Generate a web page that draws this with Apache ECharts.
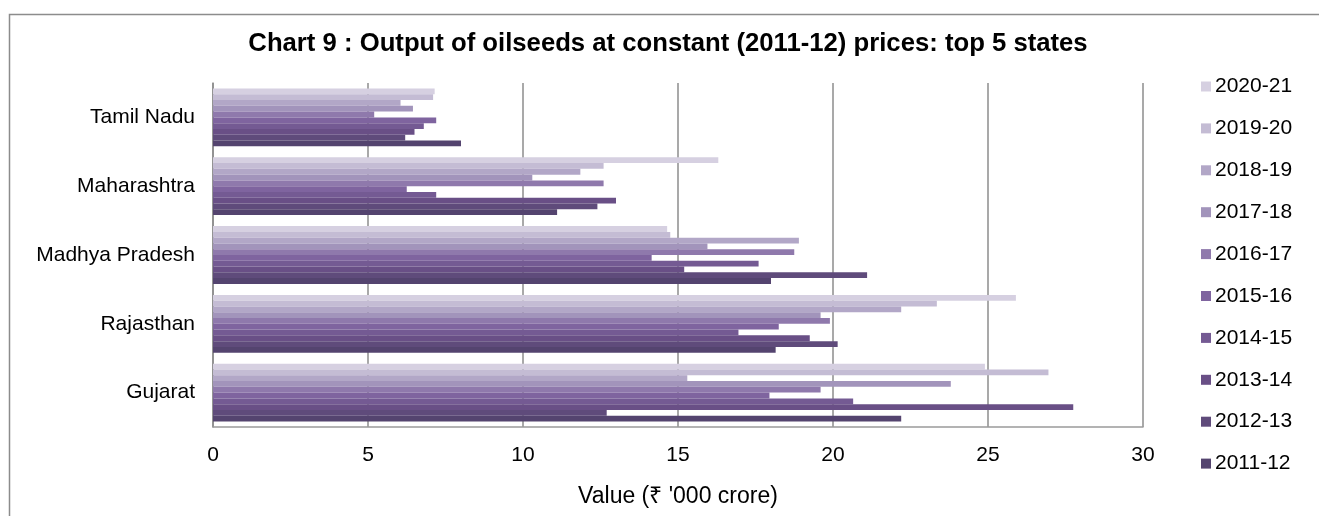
<!DOCTYPE html>
<html>
<head>
<meta charset="utf-8">
<script src="https://cdn.jsdelivr.net/npm/echarts@6/dist/echarts.min.js"></script>
<style>
  html, body { margin: 0; padding: 0; background: #fff; }
  #chart { width: 1319px; height: 516px; }
</style>
</head>
<body>
<div id="chart"></div>
<script>
// states, bottom to top as drawn
const states = ['Gujarat', 'Rajasthan', 'Madhya Pradesh', 'Maharashtra', 'Tamil Nadu'];
const years = ['2011-12', '2012-13', '2013-14', '2014-15', '2015-16',
               '2016-17', '2017-18', '2018-19', '2019-20', '2020-21'];
const xTicks = [0, 5, 10, 15, 20, 25, 30];

// values in Rs '000 crore, one array per year, in states order
const v2011 = [22.2, 18.15, 18.0, 11.1, 8.0];
const v2012 = [12.7, 20.15, 21.1, 12.4, 6.2];
const v2013 = [27.75, 19.25, 15.2, 13.0, 6.5];
const v2014 = [20.65, 16.95, 17.6, 7.2, 6.8];
const v2015 = [17.95, 18.25, 14.15, 6.25, 7.2];
const v2016 = [19.6, 19.9, 18.75, 12.6, 5.2];
const v2017 = [23.8, 19.6, 15.95, 10.3, 6.45];
const v2018 = [15.3, 22.2, 18.9, 11.85, 6.05];
const v2019 = [26.95, 23.35, 14.75, 12.6, 7.1];
const v2020 = [24.9, 25.9, 14.65, 16.3, 7.15];

const seriesValues = [v2011, v2012, v2013, v2014, v2015, v2016, v2017, v2018, v2019, v2020];
const colors = ['#54446f', '#5f4b7b', '#694f86', '#745a93', '#7f649f',
                '#8f79ac', '#a294bb', '#b2a7c7', '#c4bcd4', '#d6d0e1'];

const chart = echarts.init(document.getElementById('chart'));

// echarts puts the first series at the top of each band, so go newest first
const series = [];
for (let i = years.length - 1; i >= 0; i--) {
  series.push({
    name: years[i],
    type: 'bar',
    data: seriesValues[i],
    barGap: '0%',
    barCategoryGap: '16%',
    itemStyle: { color: colors[i] }
  });
}

chart.setOption({
  animation: false,
  textStyle: { fontFamily: 'Liberation Sans, Arial, sans-serif' },
  title: {
    text: 'Chart 9 : Output of oilseeds at constant (2011-12) prices: top 5 states',
    left: 663,
    top: 26,
    textAlign: 'center',
    textStyle: { fontSize: 25.7, fontWeight: 'bold', color: '#000' }
  },
  graphic: [{
    type: 'rect',
    shape: { x: 9.5, y: 14.5, width: 1330, height: 520 },
    style: { fill: 'none', stroke: '#8c8c8c', lineWidth: 1.5 },
    silent: true,
    z: -1
  }],
  legend: {
    orient: 'vertical',
    left: 1196,
    top: 71,
    itemWidth: 10,
    itemHeight: 10,
    itemGap: 20.9,
    icon: 'rect',
    data: years.slice().reverse(),
    textStyle: { fontSize: 21, color: '#000', padding: [0, 0, 0, -1] }
  },
  grid: { left: 213, right: 176, top: 83, bottom: 89 },
  xAxis: {
    type: 'value',
    min: xTicks[0],
    max: xTicks[xTicks.length - 1],
    interval: 5,
    name: "Value (\u20B9 '000 crore)",
    nameLocation: 'middle',
    nameGap: 58,
    nameTextStyle: { fontSize: 23, color: '#000' },
    axisLine: { show: true, lineStyle: { color: '#9a9a9a', width: 1.5 } },
    axisTick: { show: false },
    axisLabel: { fontSize: 21, color: '#000', margin: 18 },
    splitLine: { show: true, lineStyle: { color: '#8c8c8c', width: 1.5 } }
  },
  yAxis: {
    type: 'category',
    data: states,
    axisLine: { show: true, lineStyle: { color: '#8c8c8c', width: 1.5 } },
    axisTick: { show: false },
    axisLabel: { fontSize: 21, color: '#000', margin: 18 }
  },
  series: series
});

window.addEventListener('resize', () => {
  chart.resize();
});
</script>
</body>
</html>
